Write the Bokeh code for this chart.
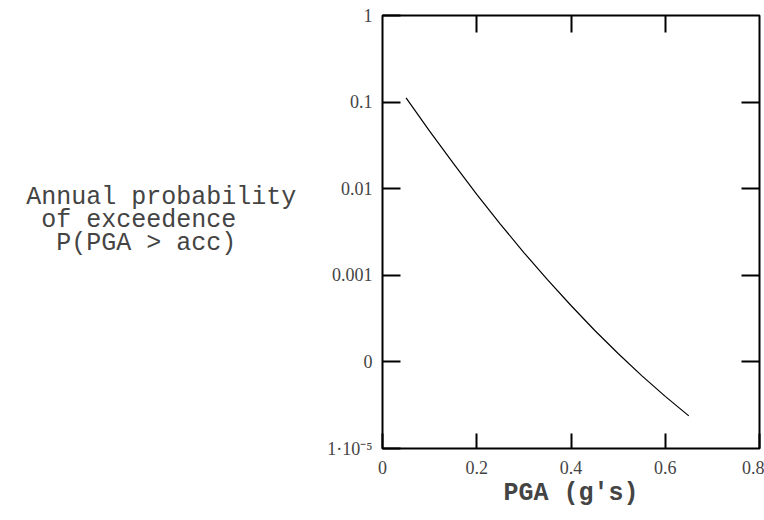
from bokeh.plotting import figure
from bokeh.models import LinearAxis, LogAxis, FixedTicker, CustomJSTickFormatter
from bokeh.embed import file_html
from bokeh.resources import INLINE

# ---- data ----
pga = [0.05, 0.10, 0.15, 0.20, 0.25, 0.30, 0.35, 0.40, 0.45, 0.50, 0.55, 0.60, 0.65]
prob = [0.112, 0.0463, 0.0197, 0.00861, 0.00391, 0.00183, 0.000891,
        0.000448, 0.000232, 0.000125, 6.95e-5, 4.0e-5, 2.38e-5]
x_ticks = [0, 0.2, 0.4, 0.6, 0.8]
x_inner_ticks = [0.2, 0.4, 0.6]
y_ticks = [1e-5, 1e-4, 1e-3, 1e-2, 1e-1, 1]
y_tick_labels = ["1\u00b710\u207b\u2075", "0", "0.001", "0.01", "0.1", "1"]
y_inner_ticks = [1e-4, 1e-3, 1e-2, 1e-1]
x_title = "PGA (g's)"
y_title = ["Annual probability", "of exceedence", "P(PGA > acc)"]

SERIF = "Liberation Serif"
MONO = "Liberation Mono"
NBSP = "\u00a0"

p = figure(width=764, height=520, y_axis_type="log",
           x_range=(0, 0.8), y_range=(1e-5, 1),
           output_backend="svg", toolbar_location=None,
           min_border_left=382, min_border_right=5,
           min_border_top=15, min_border_bottom=72)
p.background_fill_color = "white"
p.border_fill_color = "white"
p.outline_line_color = "black"
p.outline_line_width = 2
p.grid.visible = False

# bottom axis
xa = p.xaxis[0]
xa.ticker = FixedTicker(ticks=x_ticks)
xa.major_tick_in = 15
xa.major_tick_out = 0
xa.major_tick_line_width = 2
xa.minor_tick_line_color = None
xa.axis_line_color = None
xa.major_label_text_font = SERIF
xa.major_label_text_font_size = "18px"
xa.major_label_standoff = 12
xa.axis_label = x_title
xa.axis_label_text_font = MONO
xa.axis_label_text_font_size = "25px"
xa.axis_label_text_font_style = "bold"
xa.axis_label_standoff = 2

# left axis
ya = p.yaxis[0]
ya.ticker = FixedTicker(ticks=y_ticks)
ya.formatter = CustomJSTickFormatter(
    args=dict(vals=y_ticks, labs=y_tick_labels),
    code="""
let best = 0, bd = 1e9;
for (let i = 0; i < vals.length; i++) {
  const d = Math.abs(Math.log10(vals[i]) - Math.log10(tick));
  if (d < bd) { bd = d; best = i; }
}
return bd < 1e-6 ? labs[best] : "";
""")
ya.major_tick_in = 18
ya.major_tick_out = 0
ya.major_tick_line_width = 2
ya.minor_tick_line_color = None
ya.axis_line_color = None
ya.major_label_text_font = SERIF
ya.major_label_text_font_size = "18px"
ya.major_label_standoff = 10
# lines padded with no-break spaces so they sit centred like the reference
ya.axis_label = "\n".join([y_title[0], y_title[1] + NBSP * 4, y_title[2] + NBSP * 4]) + "\n"
ya.axis_label_orientation = "horizontal"
ya.axis_label_text_align = "center"
ya.axis_label_text_font = MONO
ya.axis_label_text_font_size = "25px"
ya.axis_label_text_font_style = "normal"
ya.axis_label_text_line_height = 0.8
ya.axis_label_standoff = 28

# right axis (ticks only)
ra = LogAxis(ticker=FixedTicker(ticks=y_inner_ticks), formatter=CustomJSTickFormatter(code="return '';"),
             major_tick_in=18, major_tick_out=0, major_tick_line_width=2,
             minor_tick_line_color=None, axis_line_color=None,
             major_label_text_font_size="1px", major_label_standoff=0)
p.add_layout(ra, "right")

# top axis (ticks only)
ta = LinearAxis(ticker=FixedTicker(ticks=x_inner_ticks), formatter=CustomJSTickFormatter(code="return '';"),
                major_tick_in=17, major_tick_out=0, major_tick_line_width=2,
                minor_tick_line_color=None, axis_line_color=None,
                major_label_text_font_size="1px", major_label_standoff=0)
p.add_layout(ta, "above")

# curve
p.line(pga, prob, line_color="black", line_width=1.2)

open("out.html", "w").write(file_html(p, INLINE))
